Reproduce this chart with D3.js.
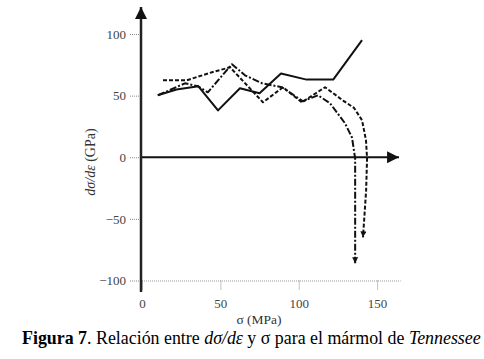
<!DOCTYPE html>
<html><head><meta charset="utf-8">
<script src="https://cdn.jsdelivr.net/npm/d3@7"></script>
<style>body{margin:0;background:#fff}svg{display:block}text{font-family:"Liberation Serif","DejaVu Serif",serif}</style>
</head><body><svg id="c" width="484" height="359"></svg>
<script>
const xTicks=[0,50,100,150];
const yTicks=[-100,-50,0,50,100];
const sigmaSolid=[10,22,36,48.5,62.5,75,88.7,105,122,140.4];
const modSolid=[50.3,55,57.6,38,56,52,68,63,63,95];
const sigmaDash=[13.4,28.7,44.7,56.2,77.2,90,102,116.8,128.3,135.3,140.4,142.9,143.6,143,141];
const modDash=[62.5,62.5,69,73,44.6,56.8,44.6,56.8,46,40,30,14,-1,-27,-65];
const sigmaDashDot=[10.2,27.4,35.7,42,57.4,65.7,76.6,89.3,102.7,112.3,120,129.5,134,136,136];
const modDashDot=[50.3,60,57.6,52.7,75.5,66.5,60,56.8,45.4,50.3,43.8,27.6,16,-1,-86];

const svg=d3.select("#c");
const x=d3.scaleLinear().domain([0,165]).range([142,400.6]);
const y=d3.scaleLinear().domain([-100,100]).range([280.5,34]);

const defs=svg.append("defs");
function mk(id,w,h,col){
  defs.append("marker").attr("id",id).attr("viewBox","0 0 10 10").attr("refX",10).attr("refY",5)
   .attr("markerWidth",w).attr("markerHeight",h).attr("markerUnits","userSpaceOnUse").attr("orient","auto")
   .append("path").attr("d","M0,0L10,5L0,10Z").attr("fill",col);
}
mk("ax",12,12,"#111");
mk("sm",7,6,"#111");

// bottom axis
const gx=svg.append("g").attr("transform",`translate(0,${y(-100)})`)
 .call(d3.axisBottom(x).tickValues(xTicks).tickSize(10).tickFormat(d3.format("d")));
gx.attr("font-family",null);
gx.select(".domain").attr("stroke","#999").attr("stroke-dasharray","1,1").attr("d",`M${x(0)},0.5H${x(165)}`);
gx.selectAll(".tick line").attr("stroke","#888").attr("stroke-dasharray","1,1");
gx.selectAll(".tick text").attr("y",18).attr("dy","0.75em").attr("fill","#444").style("font-size","13px");

// left axis
const gy=svg.append("g").attr("transform",`translate(${x(0)-1},0)`)
 .call(d3.axisLeft(y).tickValues(yTicks).tickSize(11).tickPadding(4));
gy.attr("font-family",null);
gy.select(".domain").remove();
gy.selectAll(".tick line").attr("stroke","#888").attr("stroke-dasharray","1,1");
gy.selectAll(".tick text").attr("fill","#444").style("font-size","13px");

// y axis line with arrow
svg.append("line").attr("x1",x(0)-1).attr("x2",x(0)-1).attr("y1",292).attr("y2",7)
 .attr("stroke","#222").attr("stroke-width",2.5).attr("marker-end","url(#ax)");
// zero line with arrow
svg.append("line").attr("x1",x(0)).attr("x2",x(164)).attr("y1",y(0)).attr("y2",y(0))
 .attr("stroke","#111").attr("stroke-width",2).attr("marker-end","url(#ax)");

const line=d3.line().x(d=>x(d[0])).y(d=>y(d[1]));
function draw(xs,ys,dash,arrow){
  svg.append("path").datum(xs.map((v,i)=>[v,ys[i]])).attr("d",line)
   .attr("fill","none").attr("stroke","#111").attr("stroke-width",2).attr("stroke-linejoin","round")
   .attr("stroke-dasharray",dash).attr("marker-end",arrow?"url(#sm)":null);
}
draw(sigmaSolid,modSolid,null,false);
draw(sigmaDash,modDash,"4,2",true);
draw(sigmaDashDot,modDashDot,"7,2,2,2",true);

// axis titles
svg.append("text").attr("x",259).attr("y",324).attr("text-anchor","middle").attr("fill","#333")
 .style("font-size","13.5px").text("σ (MPa)");
const yl=svg.append("text").attr("transform","translate(95,162) rotate(-90)").attr("text-anchor","middle")
 .attr("fill","#333").style("font-size","14px");
yl.append("tspan").style("font-style","italic").text("dσ/dε");
yl.append("tspan").text(" (GPa)");

// caption
const cap=svg.append("text").attr("x",22).attr("y",344).attr("fill","#000").style("font-size","16px");
cap.append("tspan").style("font-weight","bold").text("Figura 7");
cap.append("tspan").text(". Relación entre ");
cap.append("tspan").style("font-style","italic").text("dσ/dε");
cap.append("tspan").text(" y σ  para el mármol de ");
cap.append("tspan").style("font-style","italic").text("Tennessee");
const w=cap.node().getComputedTextLength();
cap.style("font-size",(16*459/w).toFixed(2)+"px");
</script></body></html>
